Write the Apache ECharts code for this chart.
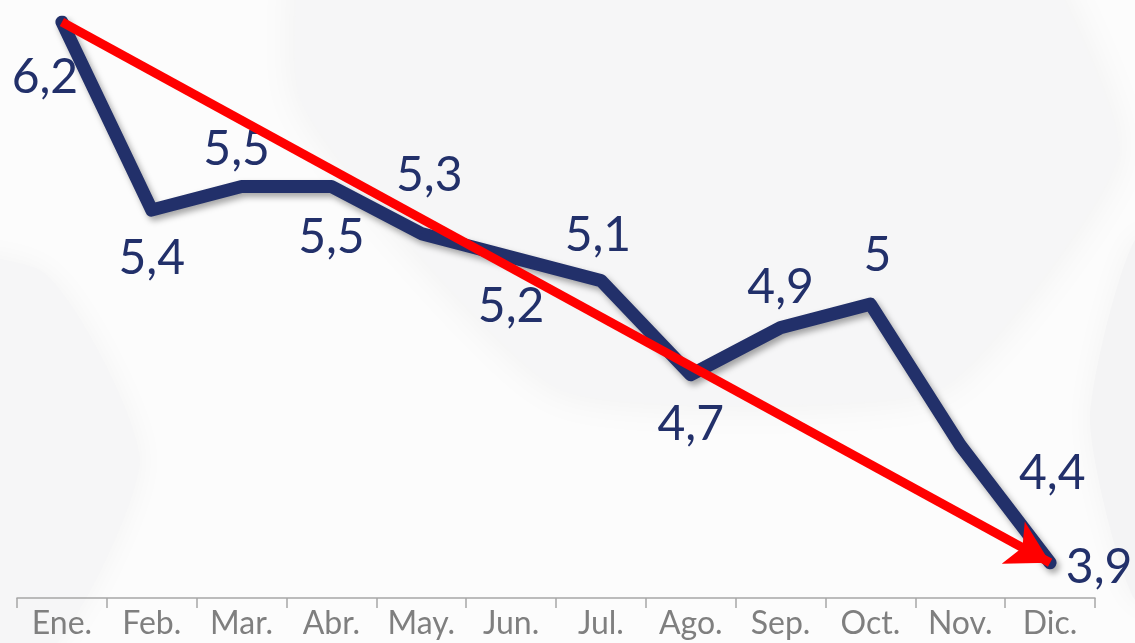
<!DOCTYPE html>
<html>
<head>
<meta charset="utf-8">
<title>Tasa mensual</title>
<script src="https://cdn.jsdelivr.net/npm/echarts@6/dist/echarts.min.js"></script>
<style>
  html, body { margin: 0; padding: 0; background: #fcfcfc; }
  #chart { width: 1135px; height: 643px; }
</style>
</head>
<body>
<div id="chart"></div>
<script>
const months = ["Ene.", "Feb.", "Mar.", "Abr.", "May.", "Jun.", "Jul.", "Ago.", "Sep.", "Oct.", "Nov.", "Dic."];
const rate = [6.2, 5.4, 5.5, 5.5, 5.3, 5.2, 5.1, 4.7, 4.9, 5, 4.4, 3.9];

// where each value label sits relative to its point (px)
const labelOffsets = [
  [-17, 56], [0, 48], [-5, -37], [0, 51], [8, -58], [0, 49],
  [-3, -45], [0, 50], [0, -40], [7, -49], [92, 28], [49, 5]
];

const navy = "#22306a";
const chart = echarts.init(document.getElementById("chart"));

chart.setOption({
  animation: false,
  backgroundColor: "#fcfcfc",
  graphic: [
    {
      type: "polygon",
      z: -10,
      shape: {
        points: [[330, -160], [960, -160], [1120, 150], [940, 390], [560, 390], [300, 100]],
        smooth: 0.15
      },
      style: { fill: "#f6f6f7", shadowBlur: 40, shadowColor: "rgba(0,0,0,0.05)" }
    },
    {
      type: "polygon",
      z: -10,
      shape: {
        points: [[-200, 270], [40, 270], [140, 460], [40, 660], [-200, 660]],
        smooth: 0.2
      },
      style: { fill: "#f6f6f7", shadowBlur: 30, shadowColor: "rgba(0,0,0,0.04)" }
    },
    {
      type: "polygon",
      z: -10,
      shape: {
        points: [[1135, 240], [1200, 240], [1200, 600], [1135, 600], [1090, 420]],
        smooth: 0.2
      },
      style: { fill: "#f4f4f5", shadowBlur: 30, shadowColor: "rgba(0,0,0,0.04)" }
    }
  ],
  grid: { left: 17, right: 40, top: 22, bottom: 45 },
  xAxis: {
    type: "category",
    data: months,
    boundaryGap: true,
    axisLine: { lineStyle: { color: "#a6a6a6", width: 1.5 } },
    axisTick: { show: true, interval: 0, length: 10, lineStyle: { color: "#a6a6a6", width: 1.5 } },
    axisLabel: { interval: 0, color: "#7f7f7f", fontSize: 32, fontFamily: "Lato", margin: 10 }
  },
  yAxis: {
    type: "value",
    min: 3.75,
    max: 6.2,
    show: false,
    splitLine: { show: false }
  },
  series: [
    {
      type: "line",
      data: rate.map((v, i) => ({ value: v, label: { offset: labelOffsets[i] } })),
      symbol: "circle",
      symbolSize: 0.1,
      itemStyle: { color: navy },
      lineStyle: {
        color: navy,
        width: 13,
        cap: "round",
        join: "round",
        shadowColor: "rgba(0,0,0,0.35)",
        shadowBlur: 6,
        shadowOffsetX: 3,
        shadowOffsetY: 4
      },
      label: {
        show: true,
        position: "inside",
        color: navy,
        fontSize: 48,
        fontFamily: "Lato",
        formatter: (p) => String(p.value).replace(".", ",")
      },
      markLine: {
        silent: true,
        symbol: ["none", "arrow"],
        symbolSize: [36, 42],
        label: { show: false },
        lineStyle: { color: "#ff0000", width: 9, type: "solid" },
        data: [[
          { coord: [0, rate[0]] },
          { coord: [rate.length - 1, rate[rate.length - 1]] }
        ]]
      }
    }
  ]
});
</script>
</body>
</html>
